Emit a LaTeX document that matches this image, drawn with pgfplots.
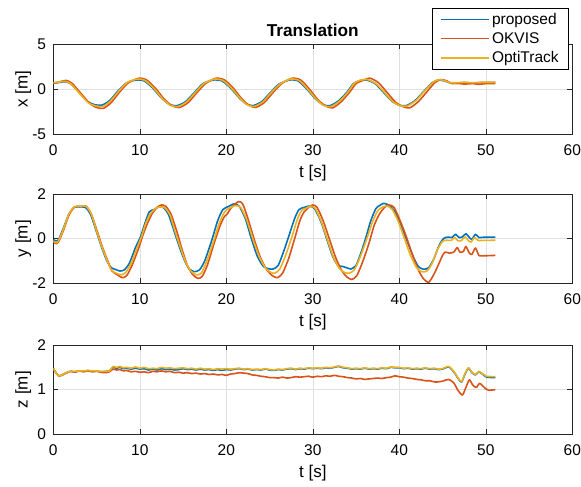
\documentclass[border=0pt]{standalone}
\usepackage{fontspec}
\setmainfont{Liberation Sans}
\usepackage{pgfplots}
\pgfplotsset{compat=1.18}
\definecolor{mblue}{rgb}{0,0.447,0.741}
\definecolor{mred}{rgb}{0.85,0.325,0.098}
\definecolor{myellow}{rgb}{0.929,0.694,0.125}
\pgfplotsset{mstyle/.style={
  scale only axis, width=519pt,
  xmin=0, xmax=60, xtick={0,10,...,60},
  axis line style={draw=black!85, line width=0.6pt},
  tick style={draw=black!85, line width=0.6pt},
  tick align=inside, major tick length=5pt,
  xtick pos=both, ytick pos=both,
  xticklabel pos=lower, yticklabel pos=left,
  grid=major, major grid style={draw=black!12, line width=0.5pt},
  tick label style={font=\fontsize{15.5}{18}\selectfont},
  /pgf/number format/assume math mode=true,
  xticklabel style={inner sep=0pt, yshift=-10pt},
  yticklabel style={inner sep=0pt, xshift=-7pt},
  xlabel={t [s]},
  every axis x label/.style={at={(axis description cs:0.5,-0.43)}, anchor=center, font=\fontsize{17}{20}\selectfont},
  every axis y label/.style={at={(axis description cs:-0.058,0.5)}, rotate=90, anchor=center, font=\fontsize{17}{20}\selectfont},
  every axis plot/.append style={line width=1.6pt, line join=round, smooth, tension=0.4},
}}
\begin{document}
\begin{tikzpicture}[x=1pt,y=1pt]
\path[use as bounding box] (0,0) rectangle (581,-487);
% ---------------- x ----------------
\begin{axis}[mstyle, at={(53.3pt,-44pt)}, anchor=north west, height=90pt,
  ymin=-5, ymax=5, ytick={-5,0,5}, ylabel={x [m]},
  title={Translation},
  title style={font=\bfseries\fontsize{17.2}{20}\selectfont, at={(axis description cs:0.5,1)}, anchor=base, inner sep=0pt, yshift=2pt},
  legend style={at={(axis description cs:0.73,1.4)}, anchor=north west, line width=0.6pt, fill=white,
     font=\fontsize{15.5}{18}\selectfont, inner xsep=8pt, inner ysep=3pt, row sep=2.5pt},
  legend cell align=left,
]
\addplot[mblue, legend image code/.code={\draw[mblue, line width=1.6pt] (0pt,0pt) -- (48pt,0pt);}] coordinates {(0,0.65) (0.5,0.7) (1.3,0.8) (2,0.6) (3,-0.4) (4,-1.4) (4.8,-1.75) (5.6,-1.8) (6.5,-1.3) (7.5,-0.2) (8.5,0.7) (9.6,1.0) (10.5,0.9) (11.5,0.1) (12.5,-1.0) (13.4,-1.7) (14.3,-1.85) (15.3,-1.4) (16.3,-0.4) (17.3,0.6) (18.5,1.0) (19.5,0.9) (20.5,0.1) (21.5,-1.0) (22.3,-1.65) (23.1,-1.85) (24.1,-1.4) (25.1,-0.4) (26.1,0.55) (27.3,1.0) (28.3,0.9) (29.3,0.0) (30.3,-1.1) (31.2,-1.75) (32.0,-1.85) (33.0,-1.3) (34.0,-0.3) (34.7,0.6) (35.5,0.95) (36.2,1.0) (37.2,0.6) (38.2,-0.4) (39.2,-1.4) (40.0,-1.8) (40.8,-1.85) (41.8,-1.3) (42.8,-0.3) (43.8,0.7) (44.5,1.0) (45.2,0.9) (45.8,0.7) (46.5,0.65) (47.5,0.72) (48.5,0.65) (49.5,0.72) (51.1,0.72)};
\addlegendentry{proposed}
\addplot[mred, legend image code/.code={\draw[mred, line width=1.6pt] (0pt,0pt) -- (48pt,0pt);}] coordinates {(0,0.65) (0.5,0.75) (1.5,0.95) (2.2,0.6) (3.2,-0.5) (4.2,-1.6) (5.0,-2.05) (5.8,-2.15) (6.7,-1.5) (7.7,-0.3) (8.7,0.7) (9.9,1.2) (10.8,1.0) (11.8,0.1) (12.8,-1.1) (13.7,-1.85) (14.6,-2.05) (15.6,-1.5) (16.6,-0.4) (17.6,0.6) (18.8,1.2) (19.8,1.0) (20.8,0.1) (21.8,-1.1) (22.6,-1.8) (23.4,-2.05) (24.4,-1.5) (25.4,-0.4) (26.4,0.6) (27.6,1.2) (28.6,1.0) (29.6,0.0) (30.6,-1.2) (31.5,-1.9) (32.3,-2.1) (33.3,-1.4) (34.3,-0.3) (35.0,0.6) (35.8,0.95) (36.6,1.2) (37.6,0.7) (38.6,-0.4) (39.6,-1.5) (40.4,-1.95) (41.2,-2.1) (42.2,-1.4) (43.2,-0.3) (44.1,0.7) (44.8,1.05) (45.5,0.9) (46.1,0.6) (46.8,0.62) (47.5,0.55) (48.5,0.6) (49.2,0.52) (50.0,0.6) (51.1,0.6)};
\addlegendentry{OKVIS}
\addplot[myellow, legend image code/.code={\draw[myellow, line width=1.6pt] (0pt,0pt) -- (48pt,0pt);}] coordinates {(0,0.7) (0.5,0.75) (1.3,0.85) (2,0.6) (3,-0.45) (4,-1.5) (4.8,-1.85) (5.7,-1.95) (6.6,-1.35) (7.6,-0.2) (8.6,0.75) (9.7,1.1) (10.6,0.95) (11.6,0.1) (12.6,-1.05) (13.5,-1.8) (14.4,-1.95) (15.4,-1.45) (16.4,-0.4) (17.4,0.6) (18.6,1.1) (19.6,0.95) (20.6,0.1) (21.6,-1.05) (22.4,-1.75) (23.2,-1.95) (24.2,-1.45) (25.2,-0.4) (26.2,0.55) (27.4,1.1) (28.4,0.95) (29.4,0.0) (30.4,-1.15) (31.3,-1.85) (32.1,-1.95) (33.1,-1.35) (34.1,-0.3) (34.8,0.65) (35.6,1.0) (36.3,1.05) (37.3,0.6) (38.3,-0.4) (39.3,-1.45) (40.1,-1.85) (40.9,-1.9) (41.9,-1.3) (42.9,-0.25) (43.9,0.75) (44.6,1.05) (45.3,0.9) (45.9,0.7) (46.6,0.7) (47.5,0.75) (48.5,0.7) (49.5,0.75) (51.1,0.75)};
\addlegendentry{OptiTrack}
\end{axis}
% ---------------- y ----------------
\begin{axis}[mstyle, at={(53.3pt,-194pt)}, anchor=north west, height=89.3pt,
  ymin=-2, ymax=2, ytick={-2,0,2}, ylabel={y [m]}]
\addplot[mblue] coordinates {(0,-0.05) (0.3,-0.1) (0.6,-0.05) (1.2,0.5) (1.8,1.1) (2.4,1.4) (3.0,1.42) (3.7,1.4) (4.3,1.1) (5.0,0.3) (5.6,-0.4) (6.2,-1.0) (6.7,-1.3) (7.2,-1.38) (7.7,-1.45) (8.2,-1.4) (8.8,-1.1) (9.5,-0.4) (10.1,0.1) (10.6,0.7) (11.1,1.2) (11.6,1.3) (12.2,1.42) (12.7,1.4) (13.3,1.1) (14.0,0.3) (14.6,-0.4) (15.2,-1.0) (15.7,-1.35) (16.3,-1.48) (16.9,-1.4) (17.5,-1.0) (18.3,-0.1) (19.0,0.8) (19.6,1.3) (20.3,1.45) (20.9,1.56) (21.5,1.45) (22.2,0.9) (22.9,0.0) (23.6,-0.8) (24.3,-1.25) (24.9,-1.35) (25.4,-1.36) (26.0,-1.2) (26.7,-0.5) (27.3,0.2) (27.9,0.9) (28.4,1.3) (29.0,1.4) (29.6,1.46) (30.2,1.35) (30.9,0.8) (31.6,0.0) (32.3,-0.8) (32.9,-1.2) (33.4,-1.24) (33.9,-1.3) (34.4,-1.36) (35.0,-1.2) (35.6,-0.6) (36.1,0.0) (36.7,0.8) (37.3,1.35) (37.8,1.5) (38.2,1.58) (38.8,1.5) (39.5,1.2) (40.2,0.6) (40.9,-0.1) (41.6,-0.8) (42.2,-1.25) (42.8,-1.37) (43.4,-1.3) (44.0,-0.9) (44.6,-0.3) (45.1,0.0) (45.6,0.07) (46.1,0.05) (46.5,0.2) (46.9,0.05) (47.3,0.08) (47.7,0.22) (48.1,0.05) (48.4,-0.03) (48.8,0.2) (49.2,0.05) (49.6,0.06) (51.1,0.07)};
\addplot[mred] coordinates {(0,-0.15) (0.3,-0.22) (0.6,-0.15) (1.2,0.4) (1.8,1.05) (2.4,1.4) (3.0,1.46) (3.8,1.45) (4.4,1.1) (5.1,0.3) (5.7,-0.4) (6.3,-1.0) (6.8,-1.45) (7.4,-1.62) (8.0,-1.75) (8.5,-1.65) (9.1,-1.2) (9.8,-0.5) (10.4,0.2) (10.9,0.7) (11.4,1.1) (12.0,1.4) (12.5,1.51) (13.0,1.45) (13.6,1.1) (14.3,0.3) (14.9,-0.5) (15.5,-1.2) (16.1,-1.6) (16.7,-1.78) (17.2,-1.7) (17.8,-1.2) (18.6,-0.2) (19.3,0.6) (19.8,1.0) (20.1,1.1) (20.6,1.4) (21.4,1.66) (21.9,1.55) (22.5,0.9) (23.2,0.0) (23.9,-0.8) (24.6,-1.35) (25.3,-1.65) (25.9,-1.75) (26.5,-1.55) (27.2,-0.9) (27.9,0.0) (28.5,0.8) (29.0,1.2) (29.6,1.42) (30.0,1.51) (30.5,1.4) (31.2,0.8) (31.9,0.0) (32.6,-0.8) (33.3,-1.4) (33.9,-1.7) (34.5,-1.83) (35.1,-1.65) (35.8,-1.0) (36.5,-0.2) (37.1,0.6) (37.7,1.1) (38.3,1.4) (38.8,1.51) (39.4,1.4) (40.1,0.8) (40.8,0.1) (41.5,-0.7) (42.2,-1.4) (42.8,-1.8) (43.4,-1.95) (44.0,-1.6) (44.6,-1.1) (45.0,-0.75) (45.3,-0.6) (45.8,-0.65) (46.3,-0.6) (46.7,-0.4) (47.0,-0.6) (47.4,-0.58) (47.7,-0.35) (48.1,-0.65) (48.4,-0.7) (48.8,-0.42) (49.2,-0.75) (49.6,-0.77) (51.1,-0.75)};
\addplot[myellow] coordinates {(0,-0.1) (0.3,-0.18) (0.6,-0.1) (1.2,0.45) (1.8,1.1) (2.4,1.42) (3.0,1.46) (3.8,1.44) (4.4,1.1) (5.0,0.35) (5.6,-0.35) (6.2,-0.95) (6.7,-1.4) (7.3,-1.55) (7.9,-1.62) (8.4,-1.5) (9.0,-1.1) (9.7,-0.4) (10.2,0.1) (10.7,0.7) (11.2,1.1) (11.8,1.35) (12.3,1.42) (12.9,1.38) (13.5,1.05) (14.1,0.3) (14.7,-0.4) (15.3,-1.05) (15.9,-1.45) (16.5,-1.62) (17.1,-1.55) (17.7,-1.05) (18.5,-0.15) (19.2,0.7) (19.8,1.2) (20.4,1.38) (21.1,1.48) (21.7,1.38) (22.4,0.8) (23.1,-0.05) (23.8,-0.8) (24.5,-1.3) (25.1,-1.5) (25.6,-1.55) (26.2,-1.35) (26.9,-0.7) (27.6,0.1) (28.2,0.85) (28.7,1.25) (29.3,1.38) (29.8,1.45) (30.3,1.35) (31.0,0.75) (31.7,-0.05) (32.4,-0.85) (33.1,-1.35) (33.7,-1.52) (34.2,-1.55) (34.8,-1.4) (35.5,-0.8) (36.2,-0.05) (36.9,0.75) (37.5,1.25) (38.1,1.42) (38.6,1.46) (39.2,1.3) (39.9,0.75) (40.6,0.0) (41.3,-0.75) (42.0,-1.3) (42.6,-1.48) (43.2,-1.45) (43.8,-1.1) (44.4,-0.5) (45.0,-0.12) (45.5,-0.07) (46.0,-0.08) (46.4,0.05) (46.8,-0.1) (47.2,-0.08) (47.6,0.08) (48.0,-0.1) (48.3,-0.15) (48.7,0.05) (49.1,-0.08) (49.6,-0.08) (51.1,-0.07)};
\end{axis}
% ---------------- z ----------------
\begin{axis}[mstyle, at={(53.3pt,-345pt)}, anchor=north west, height=89.3pt,
  ymin=0, ymax=2, ytick={0,1,2}, ylabel={z [m]}]
\addplot[mblue] coordinates {(0,1.48) (0.3,1.38) (0.6,1.31) (1.0,1.33) (1.5,1.38) (2.0,1.41) (2.5,1.4) (3,1.42) (3.5,1.41) (4,1.43) (4.5,1.41) (5,1.42) (5.5,1.4) (6,1.41) (6.5,1.42) (6.9,1.5) (7.3,1.48) (7.7,1.5) (8.1,1.47) (8.5,1.48) (9.0,1.46) (9.5,1.48) (10.0,1.46) (10.5,1.47) (11.0,1.44) (11.5,1.46) (12.0,1.44) (12.5,1.47) (13.0,1.45) (13.5,1.46) (14.0,1.44) (14.5,1.45) (15.0,1.47) (15.5,1.45) (16.0,1.46) (16.5,1.44) (17.0,1.46) (17.5,1.44) (18.0,1.45) (18.5,1.43) (19.0,1.45) (19.5,1.43) (20.0,1.45) (20.5,1.44) (21.0,1.46) (21.5,1.47) (22.0,1.45) (22.5,1.46) (23.0,1.44) (23.5,1.45) (24.0,1.44) (24.5,1.46) (25.0,1.44) (25.5,1.43) (26.0,1.45) (26.5,1.44) (27.0,1.46) (27.5,1.47) (28.0,1.45) (28.5,1.47) (29.0,1.46) (29.5,1.48) (30.0,1.47) (30.5,1.48) (31.0,1.47) (31.5,1.49) (32.0,1.48) (32.5,1.5) (33.0,1.52) (33.5,1.49) (34,1.48) (34.5,1.46) (35,1.47) (35.5,1.46) (36,1.48) (36.5,1.46) (37,1.47) (37.5,1.46) (38,1.48) (38.5,1.47) (39,1.5) (39.5,1.49) (40,1.49) (40.5,1.47) (41,1.48) (41.5,1.46) (42,1.47) (42.5,1.46) (43,1.48) (43.5,1.46) (44,1.47) (44.5,1.45) (45,1.46) (45.7,1.51) (46.3,1.4) (46.8,1.25) (47.2,1.17) (47.6,1.35) (48.0,1.48) (48.4,1.38) (48.8,1.33) (49.2,1.4) (49.6,1.35) (50.1,1.28) (51.1,1.27)};
\addplot[mred] coordinates {(0,1.48) (0.3,1.38) (0.6,1.31) (1.0,1.32) (1.5,1.37) (2,1.41) (2.5,1.39) (3,1.42) (3.5,1.4) (4,1.42) (4.5,1.4) (5,1.41) (5.5,1.39) (6,1.38) (6.5,1.4) (6.9,1.46) (7.3,1.44) (7.7,1.45) (8.1,1.42) (8.5,1.43) (9.0,1.4) (9.5,1.41) (10.0,1.39) (10.5,1.4) (11.0,1.38) (11.5,1.41) (12.0,1.4) (12.5,1.42) (13.0,1.4) (13.5,1.41) (14.0,1.38) (14.5,1.39) (15.0,1.37) (15.5,1.38) (16.0,1.36) (16.5,1.37) (17.0,1.35) (17.5,1.36) (18.0,1.34) (18.5,1.35) (19.0,1.33) (19.5,1.34) (20.0,1.32) (20.5,1.35) (21.0,1.36) (21.5,1.38) (22.0,1.37) (22.5,1.36) (23.0,1.33) (23.5,1.32) (24.0,1.3) (24.5,1.29) (25.0,1.27) (25.5,1.27) (26.0,1.26) (26.5,1.28) (27.0,1.26) (27.5,1.27) (28.0,1.29) (28.5,1.28) (29.0,1.29) (29.5,1.3) (30.0,1.28) (30.5,1.3) (31.0,1.29) (31.5,1.31) (32.0,1.3) (32.5,1.32) (33.0,1.3) (33.5,1.29) (34.0,1.27) (34.5,1.26) (35.0,1.24) (35.5,1.25) (36.0,1.23) (36.5,1.24) (37.0,1.25) (37.5,1.26) (38.0,1.25) (38.5,1.27) (39.0,1.28) (39.5,1.31) (40.0,1.29) (40.5,1.28) (41.0,1.26) (41.5,1.25) (42.0,1.23) (42.5,1.22) (43.0,1.2) (43.5,1.2) (44.2,1.17) (45,1.19) (45.7,1.23) (46.3,1.15) (46.8,0.98) (47.3,0.88) (47.7,1.05) (48.1,1.22) (48.5,1.1) (48.9,1.05) (49.3,1.14) (49.8,1.05) (50.3,0.99) (51.1,1.0)};
\addplot[myellow] coordinates {(0,1.48) (0.3,1.38) (0.6,1.31) (1.0,1.33) (1.5,1.38) (2.0,1.41) (2.5,1.41) (3,1.42) (3.5,1.42) (4,1.43) (4.5,1.42) (5,1.42) (5.5,1.41) (6,1.41) (6.5,1.42) (6.9,1.52) (7.3,1.5) (7.7,1.52) (8.1,1.49) (8.5,1.5) (9.0,1.48) (9.5,1.51) (10.0,1.48) (10.5,1.5) (11.0,1.47) (11.5,1.48) (12.0,1.47) (12.5,1.5) (13.0,1.48) (13.5,1.49) (14.0,1.47) (14.5,1.48) (15.0,1.49) (15.5,1.47) (16.0,1.48) (16.5,1.46) (17.0,1.48) (17.5,1.46) (18.0,1.47) (18.5,1.45) (19.0,1.47) (19.5,1.46) (20.0,1.47) (20.5,1.46) (21.0,1.47) (21.5,1.48) (22.0,1.46) (22.5,1.47) (23.0,1.45) (23.5,1.46) (24.0,1.45) (24.5,1.47) (25.0,1.45) (25.5,1.44) (26.0,1.46) (26.5,1.45) (27.0,1.47) (27.5,1.48) (28.0,1.46) (28.5,1.48) (29.0,1.47) (29.5,1.49) (30.0,1.48) (30.5,1.49) (31.0,1.48) (31.5,1.5) (32.0,1.49) (32.5,1.51) (33.0,1.53) (33.5,1.5) (34,1.49) (34.5,1.47) (35,1.48) (35.5,1.47) (36,1.49) (36.5,1.47) (37,1.48) (37.5,1.47) (38,1.49) (38.5,1.48) (39,1.51) (39.5,1.5) (40,1.5) (40.5,1.48) (41,1.49) (41.5,1.47) (42,1.48) (42.5,1.47) (43,1.49) (43.5,1.47) (44,1.48) (44.5,1.46) (45,1.47) (45.7,1.52) (46.3,1.41) (46.8,1.26) (47.2,1.18) (47.6,1.36) (48.0,1.49) (48.4,1.39) (48.8,1.34) (49.2,1.41) (49.6,1.36) (50.1,1.3) (51.1,1.29)};
\end{axis}
\end{tikzpicture}
\end{document}
